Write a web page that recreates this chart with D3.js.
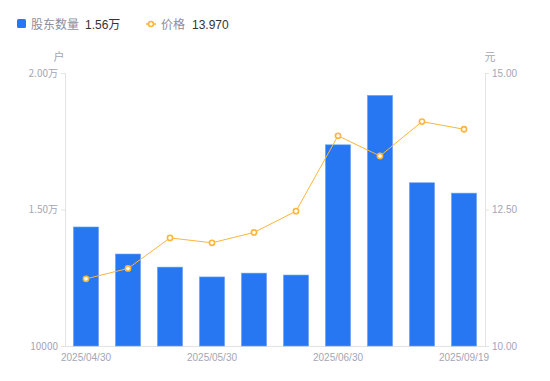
<!DOCTYPE html>
<html>

<head>
    <meta charset="utf-8">
    <title>股东数量与价格</title>
    <script src="https://d3js.org/d3.v7.min.js"></script>
    <style>
        body { margin: 0; background: #fff; }
        text { font-family: "Noto Sans CJK SC", "Noto Sans", sans-serif; }
    </style>
</head>

<body>
    <script type="text/javascript">
        // dates (only some are shown on the axis)
        let dates = ["2025/04/30", "2025/05/09", "2025/05/20", "2025/05/30", "2025/06/10",
            "2025/06/20", "2025/06/30", "2025/07/31", "2025/08/29", "2025/09/19"];
        let holders = [14360, 13370, 12890, 12530, 12670, 12600, 17370, 19180, 15980, 15600];
        let prices = [11.23, 11.42, 11.98, 11.89, 12.08, 12.47, 13.85, 13.48, 14.11, 13.97];
        let shownDates = ["2025/04/30", "2025/05/30", "2025/06/30", "2025/09/19"];
        let leftTicks = [10000, 15000, 20000];
        let rightTicks = [10, 12.5, 15];

        let width = 550, height = 381;
        let plotL = 65, plotR = 485, plotT = 73, plotB = 346;

        let svg = d3.select("body").append("svg")
            .attr("width", width)
            .attr("height", height);

        let x = d3.scaleBand().domain(dates).range([plotL, plotR]).paddingInner(0.4).paddingOuter(0.2);
        let yL = d3.scaleLinear().domain([10000, 20000]).range([plotB, plotT]);
        let yR = d3.scaleLinear().domain([10, 15]).range([plotB, plotT]);

        let grey = "#a3a6b4";
        let axisColor = "#e3e3e3";

        function fmtL(v) {
            return v >= 15000 ? (v / 10000).toFixed(2) + "万" : String(v);
        }

        // left axis
        let gl = svg.append("g").attr("transform", "translate(" + plotL + ",0)")
            .call(d3.axisLeft(yL).tickValues(leftTicks).tickFormat(fmtL).tickSize(4).tickPadding(3));
        // right axis
        let gr = svg.append("g").attr("transform", "translate(" + plotR + ",0)")
            .call(d3.axisRight(yR).tickValues(rightTicks).tickFormat(d3.format(".2f")).tickSize(4).tickPadding(3));
        // bottom axis
        let gb = svg.append("g").attr("transform", "translate(0," + plotB + ")")
            .call(d3.axisBottom(x).tickValues(shownDates).tickSize(0).tickPadding(8));

        [gl, gr, gb].forEach(g => {
            g.select(".domain").attr("stroke", axisColor);
            g.selectAll(".tick line").attr("stroke", axisColor);
            g.selectAll(".tick text").attr("fill", grey).attr("font-size", 10)
                .style("font-family", "'Liberation Sans', Arial, sans-serif");
        });
        gl.selectAll(".tick text").style("font-family", "'Noto Sans CJK SC', sans-serif");
        gb.select(".domain").attr("d", "M" + plotL + ",0.5H" + plotR);

        // unit labels
        svg.append("text").attr("x", 59).attr("y", 61).attr("text-anchor", "middle")
            .attr("fill", grey).attr("font-size", 11).text("户");
        svg.append("text").attr("x", 490).attr("y", 61).attr("text-anchor", "middle")
            .attr("fill", grey).attr("font-size", 11).text("元");

        // bars
        svg.selectAll(".bar").data(holders).enter().append("rect")
            .attr("class", "bar")
            .attr("x", (d, i) => x(dates[i]))
            .attr("width", x.bandwidth())
            .attr("y", d => yL(d))
            .attr("height", d => plotB - yL(d))
            .attr("fill", "#2677f1")
            .attr("stroke", "#6fa6f6")
            .attr("stroke-width", 0.6);

        // price line
        let line = d3.line()
            .x((d, i) => x(dates[i]) + x.bandwidth() / 2)
            .y(d => yR(d));
        svg.append("path").datum(prices)
            .attr("d", line)
            .attr("fill", "none")
            .attr("stroke", "#fdb53c")
            .attr("stroke-width", 1);
        svg.selectAll(".pt").data(prices).enter().append("circle")
            .attr("class", "pt")
            .attr("cx", (d, i) => x(dates[i]) + x.bandwidth() / 2)
            .attr("cy", d => yR(d))
            .attr("r", 2.6)
            .attr("fill", "#fff")
            .attr("stroke", "#fdb53c")
            .attr("stroke-width", 1.6);

        // legend
        let lg = svg.append("g");
        lg.append("rect").attr("x", 17).attr("y", 19).attr("width", 9).attr("height", 9)
            .attr("rx", 1.5).attr("fill", "#2677f1");
        lg.append("text").attr("x", 31).attr("y", 28.5).attr("fill", "#8b8e9c").attr("font-size", 12).text("股东数量");
        lg.append("text").attr("x", 85).attr("y", 28.5).attr("fill", "#333").attr("font-size", 12)
            .style("font-family", "'Liberation Sans', Arial, sans-serif").text("1.56").append("tspan")
            .style("font-family", "'Noto Sans CJK SC', sans-serif").text("万");
        lg.append("line").attr("x1", 146).attr("x2", 156).attr("y1", 24).attr("y2", 24)
            .attr("stroke", "#fdb53c").attr("stroke-width", 1.5);
        lg.append("circle").attr("cx", 151).attr("cy", 24).attr("r", 2.5)
            .attr("fill", "#fff").attr("stroke", "#fdb53c").attr("stroke-width", 1.6);
        lg.append("text").attr("x", 161).attr("y", 28.5).attr("fill", "#8b8e9c").attr("font-size", 12).text("价格");
        lg.append("text").attr("x", 192).attr("y", 28.5).attr("fill", "#333").attr("font-size", 12)
            .style("font-family", "'Liberation Sans', Arial, sans-serif").text(prices[9].toFixed(3));
    </script>
</body>

</html>
